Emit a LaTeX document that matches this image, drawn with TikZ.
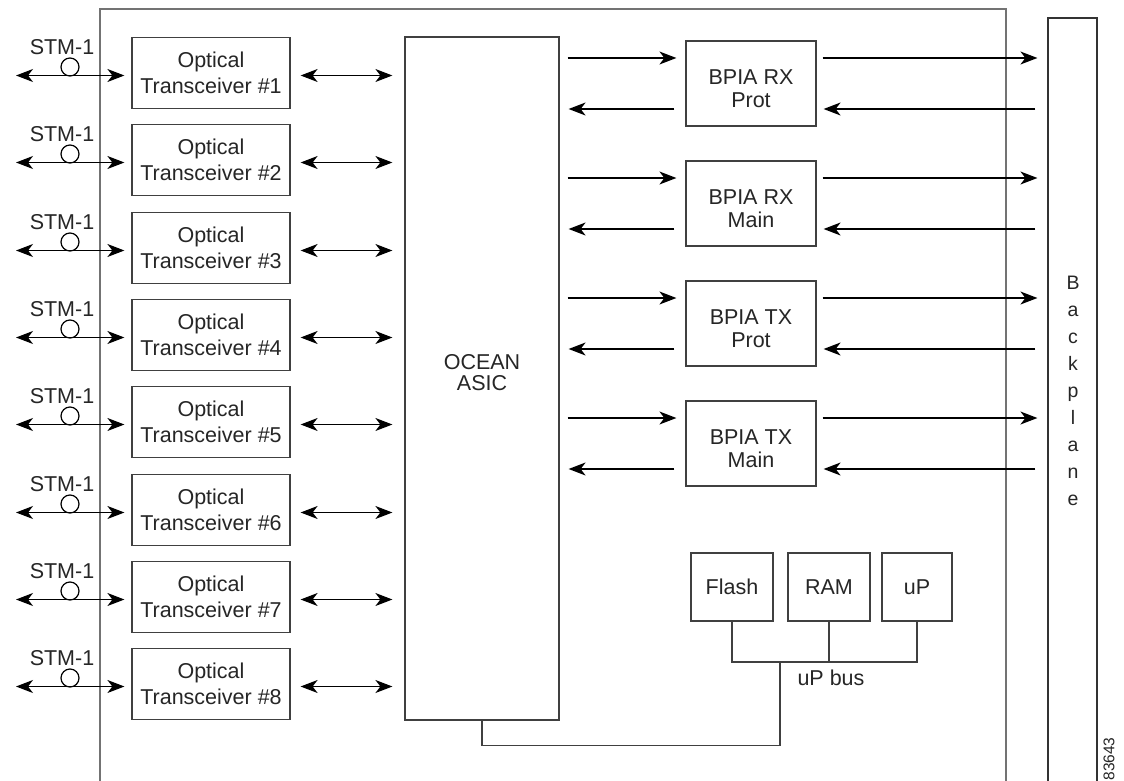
\documentclass[tikz,border=0pt]{standalone}
\usepackage{fontspec}
\setmainfont{Liberation Sans}
\usetikzlibrary{arrows.meta,calc}
\begin{document}
\begin{tikzpicture}[x=1pt,y=-1pt,
  box/.style={draw=black!75, line width=1.2pt, align=center, inner sep=0pt, text=black!85,
    font=\fontsize{21.5}{25.5}\selectfont},
  lbl/.style={inner sep=0pt, text=black!85, font=\fontsize{21.5}{24}\selectfont},
  wire/.style={draw=black!75, line width=1.2pt},
  arr/.style={-{Stealth[length=17pt,width=13pt,inset=5pt]}, line width=1.3pt},
  darr/.style={{Stealth[length=17pt,width=13pt,inset=5pt]}-{Stealth[length=17pt,width=13pt,inset=5pt]}, line width=1.3pt},
  ring/.style={draw=black, line width=1.2pt, circle, minimum size=18pt, inner sep=0pt}
]
\clip (0,0) rectangle (1124,781);
\fill[white] (0,0) rectangle (1124,781);

% card and backplane (open at the bottom)
\node[draw=black!55, line width=1.6pt, minimum width=906pt, minimum height=800pt, inner sep=0pt] (card) at (553,409) {};
\node[draw=black!80, line width=1.2pt, minimum width=49pt, minimum height=800pt, inner sep=0pt] (bp) at (1072.5,418) {};
\node[lbl, align=center, font=\fontsize{19.5}{27}\selectfont] (bplabel) at (1073,391) {B\\a\\c\\k\\p\\l\\a\\n\\e};
\node[lbl, rotate=90, font=\fontsize{15.5}{15.5}\selectfont] (fig) at (1109,759) {83643};

% OCEAN ASIC
\node[box, minimum width=154pt, minimum height=683pt] (asic) at (482,378.5) {};
\node[lbl, align=center, font=\fontsize{21.5}{21}\selectfont] (asiclabel) at (482,373) {OCEAN\\ASIC};

% transceivers
\foreach \i in {1,...,8} {
  \pgfmathsetmacro\ay{round(75+(\i-1)*87.3)+0.5}
  \pgfmathsetmacro\cy{\ay-2.5}
  \node[box, minimum width=158pt, minimum height=71pt] (t\i) at (211,\cy) {Optical\\Transceiver \#\i};
  \node[lbl] (stm\i) at (62,\cy-26) {STM-1};
  \node[ring] (c\i) at (70,\cy-6) {};
  \coordinate (ext\i) at (16,\ay);
  \draw[darr] (ext\i) -- ($(t\i.west)+(-7,2.5)$);
  \draw[darr] ($(t\i.east)+(10,2.5)$) -- ($(asic.west|-t\i.east)+(-12,2.5)$);
}

% BPIA blocks
\foreach \n/\cy/\txt in {rxp/83.5/{BPIA RX\\Prot}, rxm/203.5/{BPIA RX\\Main}, txp/323.5/{BPIA TX\\Prot}, txm/443.5/{BPIA TX\\Main}} {
  \node[box, minimum width=130pt, minimum height=85pt] (\n) at (751,\cy) {};
  \node[lbl, align=center, font=\fontsize{21.5}{23}\selectfont] (\n label) at (751,\cy+5) {\txt};
  \draw[arr] ($(asic.east|-\n.west)+(8,-25.5)$) -- ($(\n.west)+(-9,-25.5)$);
  \draw[arr] ($(\n.west)+(-11,25.5)$) -- ($(asic.east|-\n.west)+(9,25.5)$);
  \draw[arr] ($(\n.east)+(6,-25.5)$) -- ($(bp.west|-\n.east)+(-10,-25.5)$);
  \draw[arr] ($(bp.west|-\n.east)+(-12,25.5)$) -- ($(\n.east)+(7,25.5)$);
}

% processor section
\node[box, minimum width=82pt, minimum height=68pt] (flash) at (732,587) {Flash};
\node[box, minimum width=82pt, minimum height=68pt] (ram) at (829,587) {RAM};
\node[box, minimum width=70pt, minimum height=68pt] (up) at (917,587) {uP};
\coordinate (bus) at (780,662);
\draw[wire] (flash.south) |- (up.south |- bus) -- (up.south);
\draw[wire] (ram.south) -- (ram.south |- bus);
\draw[wire] (asic.south) -- ++(0,25) -| (bus);
\node[lbl] (buslabel) at (831,678) {uP bus};
\end{tikzpicture}
\end{document}
